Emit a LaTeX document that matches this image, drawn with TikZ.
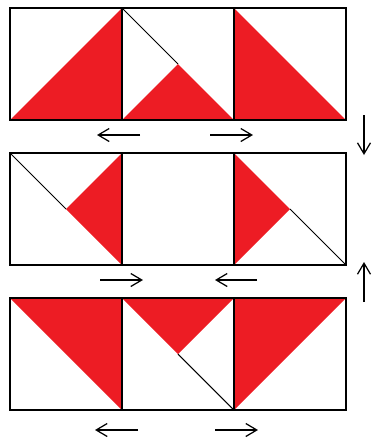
\documentclass[tikz,border=0pt]{standalone}
\usepackage{tikz}
\usetikzlibrary{arrows.meta}
\definecolor{paintred}{RGB}{237,28,36}

\begin{document}
\begin{tikzpicture}[x=0.02cm, y=-0.02cm,
  sq/.style={draw, line width=1.1pt},
  tri/.style={fill=paintred},
  diag/.style={draw, line width=0.6pt},
  arr/.style={->, line width=0.7pt},
  >={Straight Barb[length=2.2mm, width=2.6mm]}]
\useasboundingbox (0,0) rectangle (372,440);
% row 1
\fill[tri] (10,120) -- (122,8) -- (122,120) -- cycle;
\fill[tri] (122,120) -- (178,64) -- (234,120) -- cycle;
\draw[diag] (122,8) -- (178,64);
\fill[tri] (234,8) -- (346,120) -- (234,120) -- cycle;
% row 2
\draw[diag] (10,153) -- (66,209);
\fill[tri] (122,153) -- (66,209) -- (122,265) -- cycle;
\fill[tri] (234,153) -- (290,209) -- (234,265) -- cycle;
\draw[diag] (290,209) -- (346,265);
% row 3
\fill[tri] (10,298) -- (122,298) -- (122,410) -- cycle;
\fill[tri] (122,298) -- (234,298) -- (178,354) -- cycle;
\draw[diag] (178,354) -- (234,410);
\fill[tri] (234,298) -- (346,298) -- (234,410) -- cycle;
% frames
\foreach \y in {8,153,298} {
  \draw[sq] (10,\y) rectangle (346,\y+112);
  \draw[sq] (122,\y) -- ++(0,112) (234,\y) -- ++(0,112);
}
% arrows
\draw[arr] (140,135) -- (97,135);
\draw[arr] (210,135) -- (253,135);
\draw[arr] (364,115) -- (364,155);
\draw[arr] (100,280) -- (143,280);
\draw[arr] (257,280) -- (215,280);
\draw[arr] (364,302) -- (364,262);
\draw[arr] (138,430) -- (95,430);
\draw[arr] (215,430) -- (258,430);
\end{tikzpicture}
\end{document}
